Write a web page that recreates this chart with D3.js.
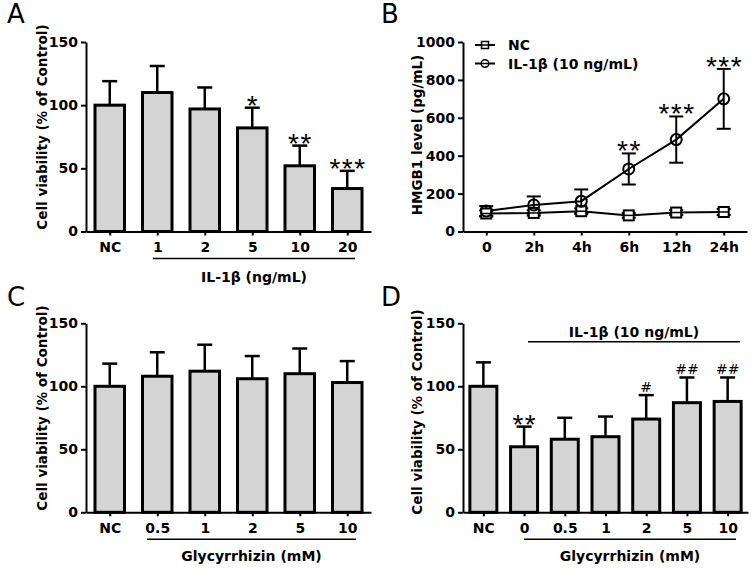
<!DOCTYPE html>
<html>
<head>
<meta charset="utf-8">
<script src="https://cdn.jsdelivr.net/npm/d3@7"></script>
<style>
  body { margin: 0; background: #fff; }
  text { font-family: "DejaVu Sans", sans-serif; }
</style>
</head>
<body>
<svg id="fig" width="755" height="568"></svg>
<script>
// panel A - IL-1b dose
const catsA = ["NC", "1", "2", "5", "10", "20"];
const meanA = [100, 110, 97, 82, 52, 34];
const errA = [19, 21, 17, 16, 16, 14];
const sigA = ["", "", "", "*", "**", "***"];

// panel B - HMGB1 time course
const timesB = ["0", "2h", "4h", "6h", "12h", "24h"];
const ncB = [95, 98, 107, 85, 100, 103];
const ncErrB = [16, 14, 15, 12, 13, 16];
const ilB = [108, 140, 160, 330, 485, 700];
const ilErrB = [26, 45, 62, 82, 122, 158];
const sigB = ["", "", "", "**", "***", "***"];

// panel C - glycyrrhizin alone
const catsC = ["NC", "0.5", "1", "2", "5", "10"];
const meanC = [100, 108, 112, 106, 110, 103];
const errC = [18, 19, 21, 18, 20, 17];

// panel D - glycyrrhizin + IL-1b
const catsD = ["NC", "0", "0.5", "1", "2", "5", "10"];
const meanD = [100, 52, 58, 60, 74, 87, 88];
const errD = [19, 16, 17, 16, 19, 20, 19];
const sigD = ["", "**", "", "", "#", "##", "##"];

const svg = d3.select("#fig");
svg.append("rect").attr("width", 755).attr("height", 568).attr("fill", "#fff");

const styleAxis = (g) => {
    g.selectAll(".domain").attr("stroke", "#000").attr("stroke-width", 2);
    g.selectAll(".tick line").attr("stroke", "#000").attr("stroke-width", 2);
    g.selectAll(".tick text")
        .attr("fill", "#000")
        .style("font-family", "DejaVu Sans")
        .style("font-weight", "bold")
        .style("font-size", "14px");
};

const panelLetter = (x, y, s) => {
    svg.append("text").attr("x", x).attr("y", y)
        .style("font-size", "26px").style("font-family", "DejaVu Sans")
        .text(s);
};

const yTitle = (x, y, s) => {
    svg.append("text")
        .attr("transform", `translate(${x},${y}) rotate(-90)`)
        .attr("text-anchor", "middle")
        .attr("dy", "0.35em")
        .style("font-weight", "bold").style("font-size", "13.5px")
        .text(s);
};

// asterisks sit just above the error bar cap
const stars = (g, cx, top, s) => {
    g.append("text").attr("x", cx + 0.75).attr("y", top + 7)
        .attr("text-anchor", "middle")
        .style("font-family", "Liberation Sans")
        .style("font-size", "28px")
        .style("letter-spacing", "1.5px")
        .text(s);
};

function drawBars(o) {
    const x = d3.scalePoint().domain(o.cats).range([o.x0, o.x1]).padding(0.5);
    const y = d3.scaleLinear().domain([0, 150]).range([o.yb, o.yt]);
    const bw = o.bw;
    const g = svg.append("g");

    // error bars (upper only)
    o.cats.forEach((c, i) => {
        const cx = x(c);
        g.append("line").attr("x1", cx).attr("x2", cx)
            .attr("y1", y(o.mean[i])).attr("y2", y(o.mean[i] + o.err[i]))
            .attr("stroke", "#000").attr("stroke-width", 2.5);
        g.append("line").attr("x1", cx - 7.5).attr("x2", cx + 7.5)
            .attr("y1", y(o.mean[i] + o.err[i])).attr("y2", y(o.mean[i] + o.err[i]))
            .attr("stroke", "#000").attr("stroke-width", 2.5);
    });

    g.selectAll("rect.bar")
        .data(o.cats)
        .enter()
        .append("rect")
        .attr("class", "bar")
        .attr("x", d => x(d) - bw / 2)
        .attr("width", bw)
        .attr("y", (d, i) => y(o.mean[i]))
        .attr("height", (d, i) => y(0) - y(o.mean[i]))
        .attr("fill", "#d4d4d4")
        .attr("stroke", "#000")
        .attr("stroke-width", 3);

    g.append("g").attr("transform", `translate(${o.x0},0)`)
        .call(d3.axisLeft(y).tickValues([0, 50, 100, 150]).tickSize(5).tickPadding(3).tickSizeOuter(0))
        .call(styleAxis);
    g.append("g").attr("transform", `translate(0,${o.yb})`)
        .call(d3.axisBottom(x).tickSize(4).tickPadding(7).tickSizeOuter(0))
        .call(styleAxis);

    if (o.sig) {
        o.cats.forEach((c, i) => {
            const s = o.sig[i];
            if (!s) return;
            const top = y(o.mean[i] + o.err[i]);
            if (s[0] === "#") {
                g.append("text").attr("x", x(c)).attr("y", top - 3)
                    .attr("text-anchor", "middle")
                    .style("font-size", "14px").text(s);
            } else {
                stars(g, x(c), top, s);
            }
        });
    }
    return x;
}

const groupLine = (x1, x2, y, label, ly) => {
    svg.append("line").attr("x1", x1).attr("x2", x2).attr("y1", y).attr("y2", y)
        .attr("stroke", "#000").attr("stroke-width", 1.5);
    svg.append("text").attr("x", (x1 + x2) / 2).attr("y", ly)
        .attr("text-anchor", "middle")
        .style("font-weight", "bold").style("font-size", "14px")
        .text(label);
};

// ---- A ----
panelLetter(7, 23, "A");
yTitle(42, 127, "Cell viability (% of Control)");
drawBars({cats: catsA, mean: meanA, err: errA, sig: sigA, x0: 86, x1: 371, yb: 231.5, yt: 42, bw: 29.5});
groupLine(153, 355, 258.5, "IL-1β (ng/mL)", 282);

// ---- B ----
panelLetter(381, 23, "B");
yTitle(417, 135, "HMGB1 level (pg/mL)");
{
    const x = d3.scalePoint().domain(timesB).range([463, 747]).padding(0.49);
    const y = d3.scaleLinear().domain([0, 1000]).range([231.5, 42]);
    const g = svg.append("g");
    const line = d3.line().x((d, i) => x(timesB[i])).y(d => y(d));

    const series = [
        {vals: ncB, errs: ncErrB, shape: "square"},
        {vals: ilB, errs: ilErrB, shape: "circle"}
    ];
    series.forEach(s => {
        g.append("path").datum(s.vals).attr("d", line)
            .attr("fill", "none").attr("stroke", "#000").attr("stroke-width", 2);
        s.vals.forEach((v, i) => {
            const cx = x(timesB[i]);
            const lo = y(v - s.errs[i]), hi = y(v + s.errs[i]);
            g.append("line").attr("x1", cx).attr("x2", cx).attr("y1", lo).attr("y2", hi)
                .attr("stroke", "#000").attr("stroke-width", 2);
            [lo, hi].forEach(yy => g.append("line").attr("x1", cx - 7).attr("x2", cx + 7)
                .attr("y1", yy).attr("y2", yy).attr("stroke", "#000").attr("stroke-width", 2));
        });
    });
    series.forEach(s => {
        s.vals.forEach((v, i) => {
            const cx = x(timesB[i]), cy = y(v);
            if (s.shape === "square") {
                g.append("rect").attr("x", cx - 5).attr("y", cy - 5).attr("width", 10).attr("height", 10)
                    .attr("fill", "#fff").attr("stroke", "#000").attr("stroke-width", 2);
                g.append("line").attr("x1", cx - 5).attr("x2", cx + 5).attr("y1", cy).attr("y2", cy)
                    .attr("stroke", "#000").attr("stroke-width", 1.5);
            } else {
                g.append("circle").attr("cx", cx).attr("cy", cy).attr("r", 5.5)
                    .attr("fill", "none").attr("stroke", "#000").attr("stroke-width", 2);
            }
        });
    });
    timesB.forEach((t, i) => {
        if (!sigB[i]) return;
        stars(g, x(t), y(ilB[i] + ilErrB[i]), sigB[i]);
    });

    g.append("g").attr("transform", "translate(463,0)")
        .call(d3.axisLeft(y).tickValues([0, 200, 400, 600, 800, 1000]).tickFormat(d3.format("d"))
            .tickSize(5).tickPadding(3).tickSizeOuter(0))
        .call(styleAxis);
    g.append("g").attr("transform", "translate(0,231.5)")
        .call(d3.axisBottom(x).tickSize(4).tickPadding(7).tickSizeOuter(0))
        .call(styleAxis);

    // legend
    const leg = [{name: "NC", shape: "square", y: 45}, {name: "IL-1β (10 ng/mL)", shape: "circle", y: 63.5}];
    leg.forEach(l => {
        g.append("line").attr("x1", 475).attr("x2", 495).attr("y1", l.y).attr("y2", l.y)
            .attr("stroke", "#000").attr("stroke-width", 2);
        if (l.shape === "square") {
            g.append("rect").attr("x", 481.5).attr("y", l.y - 3.5).attr("width", 7).attr("height", 7)
                .attr("fill", "#fff").attr("stroke", "#000").attr("stroke-width", 1.5);
            g.append("line").attr("x1", 481.5).attr("x2", 488.5).attr("y1", l.y).attr("y2", l.y)
                .attr("stroke", "#000").attr("stroke-width", 1.5);
        } else {
            g.append("circle").attr("cx", 485).attr("cy", l.y).attr("r", 3.8)
                .attr("fill", "#fff").attr("stroke", "#000").attr("stroke-width", 1.5);
            g.append("line").attr("x1", 481).attr("x2", 489).attr("y1", l.y).attr("y2", l.y)
                .attr("stroke", "#000").attr("stroke-width", 1.5);
        }
        g.append("text").attr("x", 508).attr("y", l.y).attr("dy", "0.36em")
            .style("font-weight", "bold").style("font-size", "14px").text(l.name);
    });
}

// ---- C ----
panelLetter(7, 306, "C");
yTitle(42, 408, "Cell viability (% of Control)");
drawBars({cats: catsC, mean: meanC, err: errC, x0: 86, x1: 371, yb: 512.3, yt: 323.3, bw: 29.5});
groupLine(147, 356, 539.3, "Glycyrrhizin (mM)", 561);

// ---- D ----
panelLetter(381, 306, "D");
yTitle(417, 412, "Cell viability (% of Control)");
drawBars({cats: catsD, mean: meanD, err: errD, sig: sigD, x0: 463, x1: 748, yb: 512.3, yt: 323.3, bw: 27});
groupLine(524, 736, 539.3, "Glycyrrhizin (mM)", 561);
groupLine(528, 740, 341.7, "IL-1β (10 ng/mL)", 336.5);
</script>
</body>
</html>
